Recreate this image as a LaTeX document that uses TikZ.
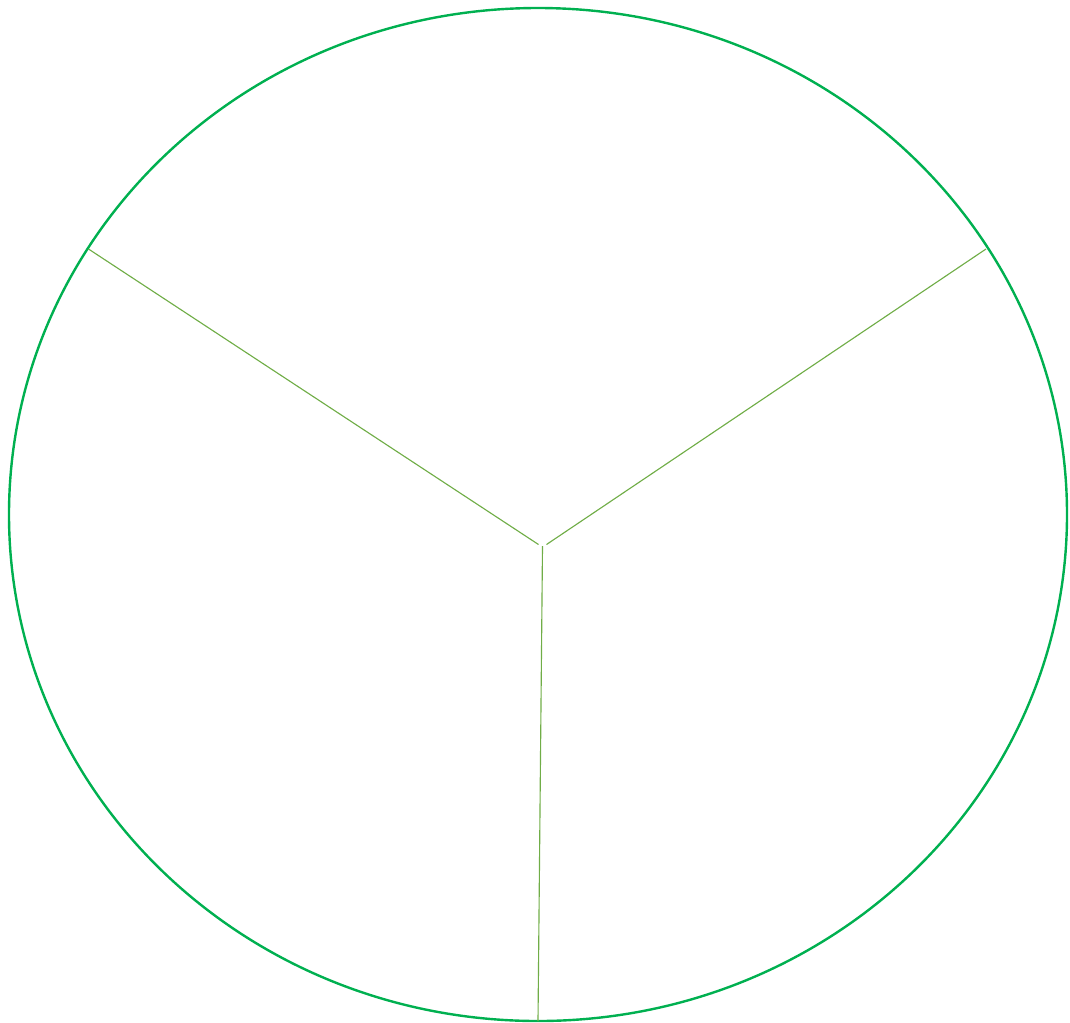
\documentclass[tikz,border=0pt]{standalone}
\usepackage{tikz}
\usepackage{xcolor}

\definecolor{rimgreen}{HTML}{00B050}
\definecolor{spokegreen}{HTML}{70AD47}

\begin{document}
\begin{tikzpicture}[
    x=0.75pt, y=-0.75pt,
    rim/.style={
        draw=rimgreen,
        line width=1.8pt
    },
    spoke/.style={
        draw=spokegreen,
        line width=0.85pt
    }
]
\useasboundingbox (0,0) rectangle (1070,1022);

% Outer ellipse
\draw[rim] (538,514.5) ellipse [x radius=529, y radius=506.5];

% Spoke end points
\coordinate (hubleft) at (538.5,544.5);
\coordinate (hubright) at (546.5,544.5);
\coordinate (hubdown) at (542.5,546);
\coordinate (rimleft) at (88.5,249);
\coordinate (rimright) at (986,249);
\coordinate (rimdown) at (538,1021);

% Spokes
\draw[spoke] (hubleft) -- (rimleft);
\draw[spoke] (hubright) -- (rimright);
\draw[spoke] (hubdown) -- (rimdown);

\end{tikzpicture}
\end{document}
